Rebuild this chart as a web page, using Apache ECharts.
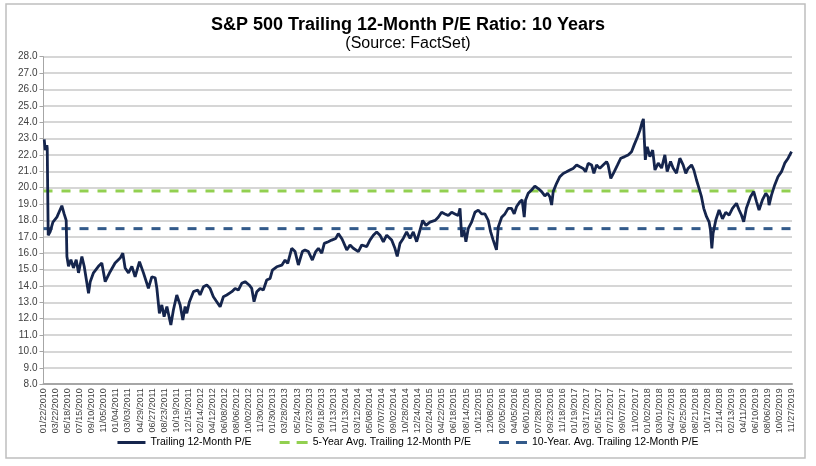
<!DOCTYPE html>
<html>
<head>
<meta charset="utf-8">
<script src="https://cdn.jsdelivr.net/npm/echarts@6/dist/echarts.min.js"></script>
<style>
  html, body { margin: 0; padding: 0; background: #fff; }
  #main { width: 816px; height: 466px; }
</style>
</head>
<body>
<div id="main"></div>
<script>
// tick labels along the bottom (one every ~40 trading days)
var dateLabels = ['01/22/2010','03/22/2010','05/18/2010','07/15/2010','09/10/2010','11/05/2010',
  '01/04/2011','03/03/2011','04/29/2011','06/27/2011','08/23/2011','10/19/2011','12/15/2011',
  '02/14/2012','04/12/2012','06/08/2012','08/06/2012','10/02/2012','11/30/2012',
  '01/30/2013','03/28/2013','05/24/2013','07/23/2013','09/18/2013','11/13/2013',
  '01/13/2014','03/12/2014','05/08/2014','07/07/2014','09/02/2014','10/28/2014','12/24/2014',
  '02/24/2015','04/22/2015','06/18/2015','08/14/2015','10/12/2015','12/08/2015',
  '02/05/2016','04/05/2016','06/01/2016','07/28/2016','09/23/2016','11/18/2016',
  '01/19/2017','03/17/2017','05/15/2017','07/12/2017','09/07/2017','11/02/2017',
  '01/02/2018','03/01/2018','04/27/2018','06/25/2018','08/21/2018','10/17/2018','12/14/2018',
  '02/13/2019','04/11/2019','06/10/2019','08/06/2019','10/02/2019','11/27/2019'];

// position along the axis, counted in label steps
var pePos = [0.06,0.14,0.28,0.31,0.39,0.55,0.78,1.11,1.52,1.71,1.88,1.94,2.07,2.27,2.48,2.71,2.90,3.18,3.37,3.73,3.87,
  4.14,4.55,4.83,5.11,5.52,5.93,6.35,6.57,6.76,7.04,7.32,7.59,7.95,8.28,8.69,8.97,9.25,9.39,9.60,9.80,9.99,
  10.22,10.55,10.76,11.04,11.32,11.54,11.73,11.87,12.09,12.14,12.42,12.78,12.97,13.25,13.53,13.80,14.07,14.35,
  14.63,14.90,15.18,15.60,15.87,16.14,16.42,16.70,17.03,17.25,17.44,17.67,17.94,18.21,18.49,18.77,18.96,19.32,
  19.74,20.01,20.23,20.56,20.84,21.11,21.44,21.66,21.94,22.27,22.55,22.77,23.05,23.26,23.59,23.87,24.21,24.42,
  24.70,24.83,25.12,25.39,25.66,26.08,26.36,26.77,27.04,27.32,27.60,27.87,28.15,28.43,28.84,29.11,29.30,29.53,
  29.80,30.08,30.36,30.63,30.91,31.18,31.41,31.68,32.01,32.43,32.70,32.98,33.25,33.53,33.81,34.08,34.35,34.50,
  34.64,34.83,34.99,35.18,35.46,35.74,36.01,36.29,36.56,36.84,37.04,37.25,37.52,37.67,37.95,38.22,38.49,38.77,
  38.99,39.19,39.47,39.65,39.82,39.93,40.15,40.43,40.70,40.98,41.26,41.53,41.75,41.94,42.09,42.22,42.50,42.77,
  43.05,43.33,43.60,43.87,44.16,44.43,44.70,44.90,45.12,45.40,45.59,45.81,46.08,46.36,46.64,46.77,46.99,47.27,
  47.55,47.82,48.15,48.43,48.71,48.92,49.20,49.40,49.59,49.69,49.77,49.85,50.01,50.23,50.46,50.65,50.92,51.20,
  51.47,51.66,51.94,52.15,52.43,52.71,52.98,53.20,53.39,53.68,53.87,54.09,54.30,54.50,54.69,54.92,55.13,55.25,
  55.36,55.46,55.69,55.96,56.24,56.51,56.79,57.07,57.40,57.62,57.81,58.00,58.22,58.56,58.83,59.06,59.27,59.55,
  59.83,60.02,60.10,60.30,60.57,60.84,61.13,61.40,61.68,61.96];

var peValues = [22.95,22.3,22.6,22.4,17.1,17.3,17.9,18.2,18.9,18.4,18.0,15.8,15.2,15.6,15.1,15.6,14.8,15.8,15.2,13.55,14.26,
  14.8,15.2,15.4,14.26,14.87,15.4,15.7,16.0,15.1,14.8,15.2,14.56,15.48,14.8,13.86,14.56,14.5,13.86,12.33,12.84,12.12,
  12.74,11.62,12.53,13.45,12.84,11.92,12.74,12.33,13.04,13.14,13.65,13.75,13.45,13.95,14.06,13.85,13.34,13.04,
  12.73,13.34,13.45,13.65,13.85,13.75,14.16,14.26,14.06,13.85,13.04,13.65,13.85,13.75,14.36,14.46,14.97,15.17,
  15.27,15.58,15.38,16.3,16.1,15.28,16.1,16.2,16.1,15.58,16.1,16.3,16.0,16.6,16.7,16.8,16.9,17.2,
  16.9,16.7,16.2,16.5,16.3,16.1,16.5,16.4,16.8,17.1,17.3,17.1,16.7,17.1,16.8,16.3,15.8,16.6,
  16.9,17.3,16.9,17.3,16.7,17.4,18.0,17.7,17.9,18.0,18.2,18.5,18.4,18.3,18.5,18.4,18.3,18.74,
  17.0,17.4,16.7,17.5,17.9,18.5,18.63,18.4,18.4,18.0,17.3,16.8,16.2,17.6,18.2,18.4,18.74,18.74,
  18.4,18.85,19.15,19.25,18.2,19.25,19.66,19.86,20.1,19.95,19.76,19.5,19.66,19.45,18.94,19.76,20.27,20.67,
  20.87,20.97,21.08,21.18,21.39,21.28,21.18,20.97,21.49,21.39,20.87,21.39,21.18,21.39,21.59,21.39,20.57,20.97,
  21.39,21.8,21.9,22.0,22.2,22.6,23.1,23.5,24.0,24.2,22.9,21.7,22.5,21.9,22.3,21.08,21.5,21.2,
  22.0,20.98,21.6,21.2,20.88,21.8,21.39,20.88,21.18,21.39,21.08,20.47,19.96,19.45,18.74,18.23,17.92,17.4,
  16.3,17.2,18.03,18.64,18.1,18.5,18.33,18.74,19.05,18.64,18.33,17.92,18.74,19.45,19.76,19.15,18.64,19.25,
  19.66,19.45,18.94,19.55,20.17,20.67,20.98,21.5,21.8,22.2];

var avg5Year = 19.8;
var avg10Year = 17.5;
var axisSpan = [0, 62];

var seriesNames = ['Trailing 12-Month P/E', '5-Year Avg. Trailing 12-Month P/E', '10-Year. Avg. Trailing 12-Month P/E'];

var peData = pePos.map(function(p, i) { return [p, peValues[i]]; });

var solidIcon = 'path://M0,0 H28 V3 H0 Z';
var dashIcon = 'path://M0,0 H10 V3 H0 Z M17,0 H28 V3 H17 Z';

var myChart = echarts.init(document.getElementById('main'));
var font = 'Arial, "Liberation Sans", sans-serif';

var option = {
    animation: false,
    backgroundColor: '#fff',
    title: {
        text: 'S&P 500 Trailing 12-Month P/E Ratio: 10 Years',
        subtext: '(Source: FactSet)',
        left: 'center',
        top: 11,
        itemGap: 2,
        textStyle: { fontFamily: font, fontSize: 18, fontWeight: 'bold', color: '#000' },
        subtextStyle: { fontFamily: font, fontSize: 16, color: '#000' }
    },
    graphic: [{
        type: 'rect',
        shape: { x: 6, y: 4, width: 799, height: 454 },
        style: { fill: 'none', stroke: '#bfbfbf', lineWidth: 1.5 },
        silent: true
    }],
    legend: {
        bottom: 13,
        left: 'center',
        itemWidth: 28,
        itemHeight: 3,
        itemGap: 28,
        textStyle: { fontFamily: font, fontSize: 10.5, color: '#000' },
        data: [
            { name: seriesNames[0], icon: solidIcon },
            { name: seriesNames[1], icon: dashIcon },
            { name: seriesNames[2], icon: dashIcon }
        ]
    },
    grid: { left: 43.5, right: 24, top: 56.7, bottom: 81.8, containLabel: false },
    xAxis: {
        type: 'value',
        min: axisSpan[0],
        max: axisSpan[1],
        interval: 1,
        axisLine: { onZero: false, lineStyle: { color: '#a6a6a6', width: 2 } },
        axisTick: { show: false },
        splitLine: { show: false },
        axisLabel: {
            rotate: 90,
            fontFamily: font,
            fontSize: 9,
            color: '#404040',
            margin: 4,
            showMaxLabel: true,
            formatter: function(v) { return dateLabels[v] || ''; }
        }
    },
    yAxis: {
        type: 'value',
        min: 8,
        max: 28,
        interval: 1,
        axisLine: { show: true, lineStyle: { color: '#a6a6a6', width: 1 } },
        axisTick: { show: true, length: 4, lineStyle: { color: '#a6a6a6' } },
        splitLine: { lineStyle: { color: '#c8c8c8', width: 1.5 } },
        axisLabel: {
            fontFamily: font,
            fontSize: 10,
            color: '#404040',
            margin: 6,
            formatter: function(v) { return v.toFixed(1); }
        }
    },
    series: [
        {
            name: seriesNames[0],
            type: 'line',
            data: peData,
            symbol: 'none',
            color: '#15254d',
            lineStyle: { color: '#15254d', width: 2.8 },
            z: 5
        },
        {
            name: seriesNames[1],
            type: 'line',
            data: [[axisSpan[0], avg5Year], [axisSpan[1] - 0.1, avg5Year]],
            symbol: 'none',
            color: '#92d050',
            lineStyle: { color: '#92d050', width: 3, type: [9, 9] },
            z: 3
        },
        {
            name: seriesNames[2],
            type: 'line',
            data: [[axisSpan[0], avg10Year], [axisSpan[1] - 0.1, avg10Year]],
            symbol: 'none',
            color: '#335a8a',
            lineStyle: { color: '#335a8a', width: 3, type: [9, 9] },
            z: 3
        }
    ]
};

myChart.setOption(option);
</script>
</body>
</html>
